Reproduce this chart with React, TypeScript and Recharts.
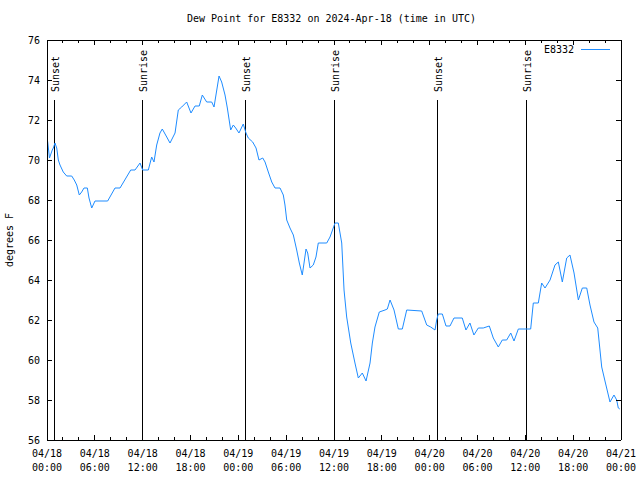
import { LineChart, Line, XAxis, YAxis, ReferenceLine, Legend } from 'recharts'

const FONT = '"DejaVu Sans Mono", monospace'

// hours since 2024-04-18 00:00 UTC
const hours = [
  0, 0.09, 0.31, 0.66, 0.79, 1.0, 1.22, 1.42, 1.63, 2.04, 2.47, 3.1, 3.42, 3.73, 4.05, 4.35, 4.64, 5.06,
  5.27, 5.61, 6.02, 7.61, 8.53, 9.16, 10.5, 11.04, 11.67, 12.0, 12.71, 13.13, 13.42, 13.76, 14.17, 14.46,
  15.02, 15.43, 16.06, 16.47, 16.9, 17.52, 18.06, 18.57, 19.1, 19.48, 20.03, 20.66, 20.95, 21.58, 21.91,
  22.33, 22.62, 23.04, 23.37, 23.67, 24.08, 24.62, 24.96, 25.25, 25.8, 26.22, 26.59, 27.06, 27.35, 27.76,
  28.19, 28.6, 29.23, 29.64, 29.85, 30.07, 30.48, 30.9, 31.32, 31.65, 32.02, 32.24, 32.49, 32.7, 32.99,
  33.4, 33.74, 34.03, 35.09, 35.5, 36.13, 36.54, 36.97, 37.26, 37.59, 38.1, 38.63, 39.05, 39.55, 40.02,
  40.52, 40.81, 41.14, 41.68, 42.4, 42.69, 43.03, 43.53, 44.07, 44.57, 45.12, 47.0, 47.63, 48.13, 48.67,
  48.88, 49.08, 49.59, 50.05, 50.55, 51.05, 52.09, 52.55, 53.05, 53.55, 54.1, 54.72, 55.48, 55.98, 56.61,
  57.11, 57.66, 58.17, 58.58, 59.12, 60.67, 61.0, 61.63, 62.05, 62.47, 63.1, 63.72, 64.14, 64.64, 65.19,
  65.6, 66.11, 66.65, 67.15, 67.7, 68.11, 68.61, 69.08, 69.58, 69.99, 70.62, 71.12, 71.46, 71.66, 71.85,
]

const dewPoint = [
  71.1, 70.9, 70.1, 70.5, 70.6, 70.85, 70.6, 70.0, 69.75, 69.4, 69.2, 69.2, 69.0, 68.75, 68.25, 68.4, 68.6, 68.6,
  68.1, 67.6, 67.95, 67.95, 68.6, 68.6, 69.5, 69.5, 69.85, 69.5, 69.5, 70.15, 69.9, 70.75, 71.35, 71.55,
  71.15, 70.85, 71.35, 72.5, 72.65, 72.9, 72.35, 72.7, 72.7, 73.25, 72.9, 72.9, 72.65, 74.2, 73.9,
  73.25, 72.6, 71.5, 71.75, 71.6, 71.35, 71.8, 71.35, 71.1, 70.9, 70.6, 70.0, 70.1, 69.9, 69.4,
  68.9, 68.6, 68.6, 68.25, 67.75, 67.0, 66.6, 66.25, 65.5, 64.85, 64.25, 64.85, 65.55, 65.35, 64.6,
  64.75, 65.15, 65.85, 65.85, 66.15, 66.85, 66.85, 65.85, 63.5, 62.15, 60.85, 59.85, 59.1, 59.35, 58.95,
  59.85, 60.85, 61.65, 62.4, 62.5, 62.55, 63.0, 62.5, 61.55, 61.55, 62.5, 62.45, 61.75, 61.65, 61.5,
  62.0, 62.3, 62.3, 61.7, 61.7, 62.1, 62.1, 61.5, 61.85, 61.25, 61.6, 61.6, 61.7, 61.1, 60.65,
  61.0, 61.0, 61.35, 60.95, 61.55, 61.55, 62.85, 62.85, 63.85, 63.6, 64.0, 64.75, 64.9, 63.9, 65.1,
  65.25, 64.35, 63.0, 63.6, 63.6, 62.75, 61.9, 61.6, 59.65, 58.95, 57.9, 58.25, 58.0, 57.6, 57.55,
]

const sunTimes = [0.92, 11.95, 24.87, 36.04, 48.96, 60.09]
const sunLabels = ['Sunset', 'Sunrise', 'Sunset', 'Sunrise', 'Sunset', 'Sunrise']

const xTicks = [0, 2, 4, 6, 8, 10, 12, 14, 16, 18, 20, 22, 24, 26, 28, 30, 32, 34, 36, 38, 40, 42, 44, 46, 48, 50, 52, 54, 56, 58, 60, 62, 64, 66, 68, 70, 72]
const dayLabels = ['04/18', '04/18', '04/18', '04/18', '04/19', '04/19', '04/19', '04/19', '04/20', '04/20', '04/20', '04/20', '04/21']
const timeLabels = ['00:00', '06:00', '12:00', '18:00', '00:00', '06:00', '12:00', '18:00', '00:00', '06:00', '12:00', '18:00', '00:00']
const yTicks = [56, 58, 60, 62, 64, 66, 68, 70, 72, 74, 76]

const data = hours.map((t, i) => ({ t, dp: dewPoint[i] }))

function BottomTick({ x, y, payload }: any) {
  const v = payload.value
  const major = v % 6 === 0
  const i = v / 6
  return (
    <g>
      <line x1={x} x2={x} y1={y} y2={y - (major ? 5 : 3)} stroke="#000" shapeRendering="crispEdges" />
      {major && (
        <text x={x} y={y + 17} textAnchor="middle" fontSize={10} fontFamily={FONT} fill="#000">{dayLabels[i]}</text>
      )}
      {major && (
        <text x={x} y={y + 31} textAnchor="middle" fontSize={10} fontFamily={FONT} fill="#000">{timeLabels[i]}</text>
      )}
    </g>
  )
}

function TopTick({ x, y, payload }: any) {
  const major = payload.value % 6 === 0
  return <line x1={x} x2={x} y1={y} y2={y + (major ? 5 : 3)} stroke="#000" shapeRendering="crispEdges" />
}

function LeftTick({ x, y, payload }: any) {
  return (
    <g>
      <line x1={x} x2={x + 5} y1={y} y2={y} stroke="#000" shapeRendering="crispEdges" />
      <text x={x - 7} y={y + 4} textAnchor="end" fontSize={10} fontFamily={FONT} fill="#000">{payload.value}</text>
    </g>
  )
}

function RightTick({ x, y }: any) {
  return <line x1={x} x2={x - 5} y1={y} y2={y} stroke="#000" shapeRendering="crispEdges" />
}

function SunLabel(text: string) {
  return (props: any) => {
    const vb = props.viewBox
    const lx = vb.x + 5
    const ly = vb.y - 8
    return (
      <text x={lx} y={ly} transform={`rotate(-90, ${lx}, ${ly})`} textAnchor="start" fontSize={10} fontFamily={FONT} fill="#000">
        {text}
      </text>
    )
  }
}

function LegendBox() {
  return (
    <div style={{ display: 'flex', justifyContent: 'flex-end', alignItems: 'center', fontFamily: FONT, fontSize: 10, lineHeight: '12px', color: '#000' }}>
      <span>E8332</span>
      <svg width={36} height={12} style={{ marginLeft: 0 }}>
        <line x1={7} x2={36} y1={5.5} y2={5.5} stroke="#1e8cff" strokeWidth={1} />
      </svg>
    </div>
  )
}

export default function App() {
  return (
    <div style={{ position: 'absolute', left: 0, top: 0, width: 640, height: 480, background: '#fff' }}>
      <div style={{ position: 'absolute', left: 0, top: 12, width: 663, textAlign: 'center', fontFamily: FONT, fontSize: 10, lineHeight: '14px', color: '#000' }}>
        Dew Point for E8332 on 2024-Apr-18 (time in UTC)
      </div>
      <LineChart width={640} height={480} data={data} margin={{ top: 30, right: 9, bottom: 0, left: 0 }}>
        <XAxis
          dataKey="t"
          type="number"
          domain={[0, 72]}
          ticks={xTicks}
          interval={0}
          height={40}
          tickSize={0}
          tickMargin={0}
          tick={<BottomTick />}
          axisLine={{ stroke: '#000', shapeRendering: 'crispEdges' }}
          allowDataOverflow
        />
        <XAxis
          xAxisId="top"
          orientation="top"
          dataKey="t"
          type="number"
          domain={[0, 72]}
          ticks={xTicks}
          interval={0}
          height={10}
          tickSize={0}
          tickMargin={0}
          tick={<TopTick />}
          axisLine={{ stroke: '#000', shapeRendering: 'crispEdges' }}
          allowDataOverflow
        />
        <YAxis
          type="number"
          domain={[56, 76]}
          ticks={yTicks}
          interval={0}
          width={47}
          tickSize={0}
          tickMargin={0}
          tick={<LeftTick />}
          axisLine={{ stroke: '#000', shapeRendering: 'crispEdges' }}
          allowDataOverflow
          label={(props: any) => {
            const vb = props.viewBox
            const lx = 13
            const ly = vb.y + vb.height / 2
            return (
              <text x={lx} y={ly} transform={`rotate(-90, ${lx}, ${ly})`} textAnchor="middle" fontSize={10} fontFamily={FONT} fill="#000">
                degrees F
              </text>
            )
          }}
        />
        <YAxis
          yAxisId="r"
          orientation="right"
          type="number"
          domain={[56, 76]}
          ticks={yTicks}
          interval={0}
          width={10}
          tickSize={0}
          tickMargin={0}
          tick={<RightTick />}
          axisLine={{ stroke: '#000', shapeRendering: 'crispEdges' }}
          allowDataOverflow
        />
        {sunTimes.map((st, i) => (
          <ReferenceLine
            key={i}
            segment={[{ x: st, y: 73 }, { x: st, y: 56 }]}
            stroke="#000"
            strokeWidth={1}
            shapeRendering="crispEdges"
            label={SunLabel(sunLabels[i])}
          />
        ))}
        <Line
          type="linear"
          dataKey="dp"
          name="E8332"
          stroke="#1e8cff"
          strokeWidth={1}
          dot={false}
          isAnimationActive={false}
        />
        <Legend
          layout="horizontal"
          verticalAlign="middle"
          align="center"
          wrapperStyle={{ top: 44, left: 510, width: 100 }}
          content={() => <LegendBox />}
        />
      </LineChart>
    </div>
  )
}
